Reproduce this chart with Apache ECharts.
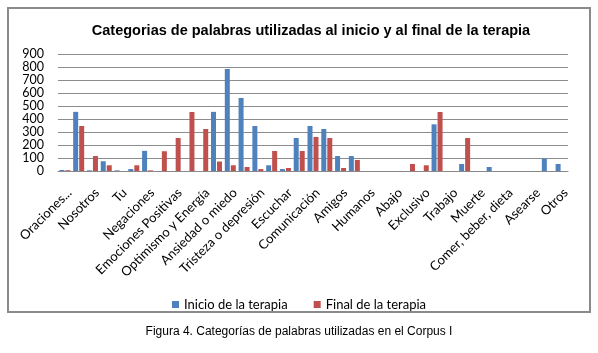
<!DOCTYPE html>
<html>
<head>
<meta charset="utf-8">
<script src="https://cdn.jsdelivr.net/npm/echarts@6/dist/echarts.min.js"></script>
<style>
  html, body { margin: 0; padding: 0; background: #fff; }
  #chart { width: 598px; height: 353px; }
</style>
</head>
<body>
<div id="chart"></div>
<script>
// categorias (las impares no llevan etiqueta visible en el original)
var categories = ['Oraciones...', '', 'Nosotros', '', 'Tu', '', 'Negaciones', '',
  'Emociones Positivas', '', 'Optimismo y Energía', '', 'Ansiedad o miedo', '',
  'Tristeza o depresión', '', 'Escuchar', '', 'Comunicación', '', 'Amigos', '',
  'Humanos', '', 'Abajo', '', 'Exclusivo', '', 'Trabajo', '', 'Muerte', '',
  'Comer, beber, dieta', '', 'Asearse', '', 'Otros'];
var inicio = [8, 455, 5, 75, 5, 15, 155, 0, 0, 0, 0, 455, 785, 562, 346, 44, 15,
  254, 346, 323, 115, 115, 0, 0, 0, 0, 0, 359, 0, 54, 0, 31, 0, 0, 0, 95, 54];
var final = [6, 346, 115, 44, 0, 44, 5, 152, 254, 454, 323, 73, 44, 31, 15, 154, 23,
  154, 262, 254, 23, 85, 0, 0, 0, 54, 44, 454, 0, 254, 0, 0, 0, 0, 0, 0, 0];
var yTicks = [0, 900, 100];

var chart = echarts.init(document.getElementById('chart'));
chart.setOption({
    animation: false,
    textStyle: { fontFamily: 'Lato' },
    graphic: [
        { type: 'rect', shape: { x: 8, y: 8, width: 582, height: 304 },
          style: { fill: 'none', stroke: '#8a8a8a', lineWidth: 2 } },
        { type: 'text', left: 'center', top: 326,
          style: { text: 'Figura 4. Categorías de palabras utilizadas en el Corpus I',
                   font: '12px "Liberation Sans"', fill: '#000' } }
    ],
    title: {
        text: 'Categorias de palabras utilizadas al inicio y al final de la terapia',
        left: 306, textAlign: 'center', top: 18,
        textStyle: { fontFamily: 'Liberation Sans', fontSize: 14.5, fontWeight: 'bold', color: '#000' }
    },
    legend: {
        top: 293, left: 'center',
        itemWidth: 7, itemHeight: 7, itemGap: 26,
        icon: 'rect',
        textStyle: { fontSize: 13, color: '#000', fontFamily: 'Lato' },
        data: ['Inicio de la terapia', 'Final de la terapia']
    },
    grid: { left: 58, right: 30, top: 54, bottom: 182 },
    xAxis: {
        type: 'category',
        data: categories,
        axisTick: { show: false },
        axisLine: { lineStyle: { color: '#888' } },
        axisLabel: { interval: 0, rotate: 45, fontSize: 13, color: '#000', margin: 15,
                     verticalAlign: 'top' }
    },
    yAxis: {
        type: 'value',
        min: yTicks[0], max: yTicks[1], interval: yTicks[2],
        axisLine: { show: false },
        axisTick: { show: false },
        axisLabel: { fontSize: 12.5, color: '#000', margin: 14,
                     showMinLabel: true, showMaxLabel: true },
        splitLine: { lineStyle: { color: '#8c8c8c' } }
    },
    series: [
        { name: 'Inicio de la terapia', type: 'bar', data: inicio, barWidth: 5, barGap: '20%',
          itemStyle: { color: '#4F81BD' } },
        { name: 'Final de la terapia', type: 'bar', data: final, barWidth: 5,
          itemStyle: { color: '#C0504D' } }
    ]
});
</script>
</body>
</html>
